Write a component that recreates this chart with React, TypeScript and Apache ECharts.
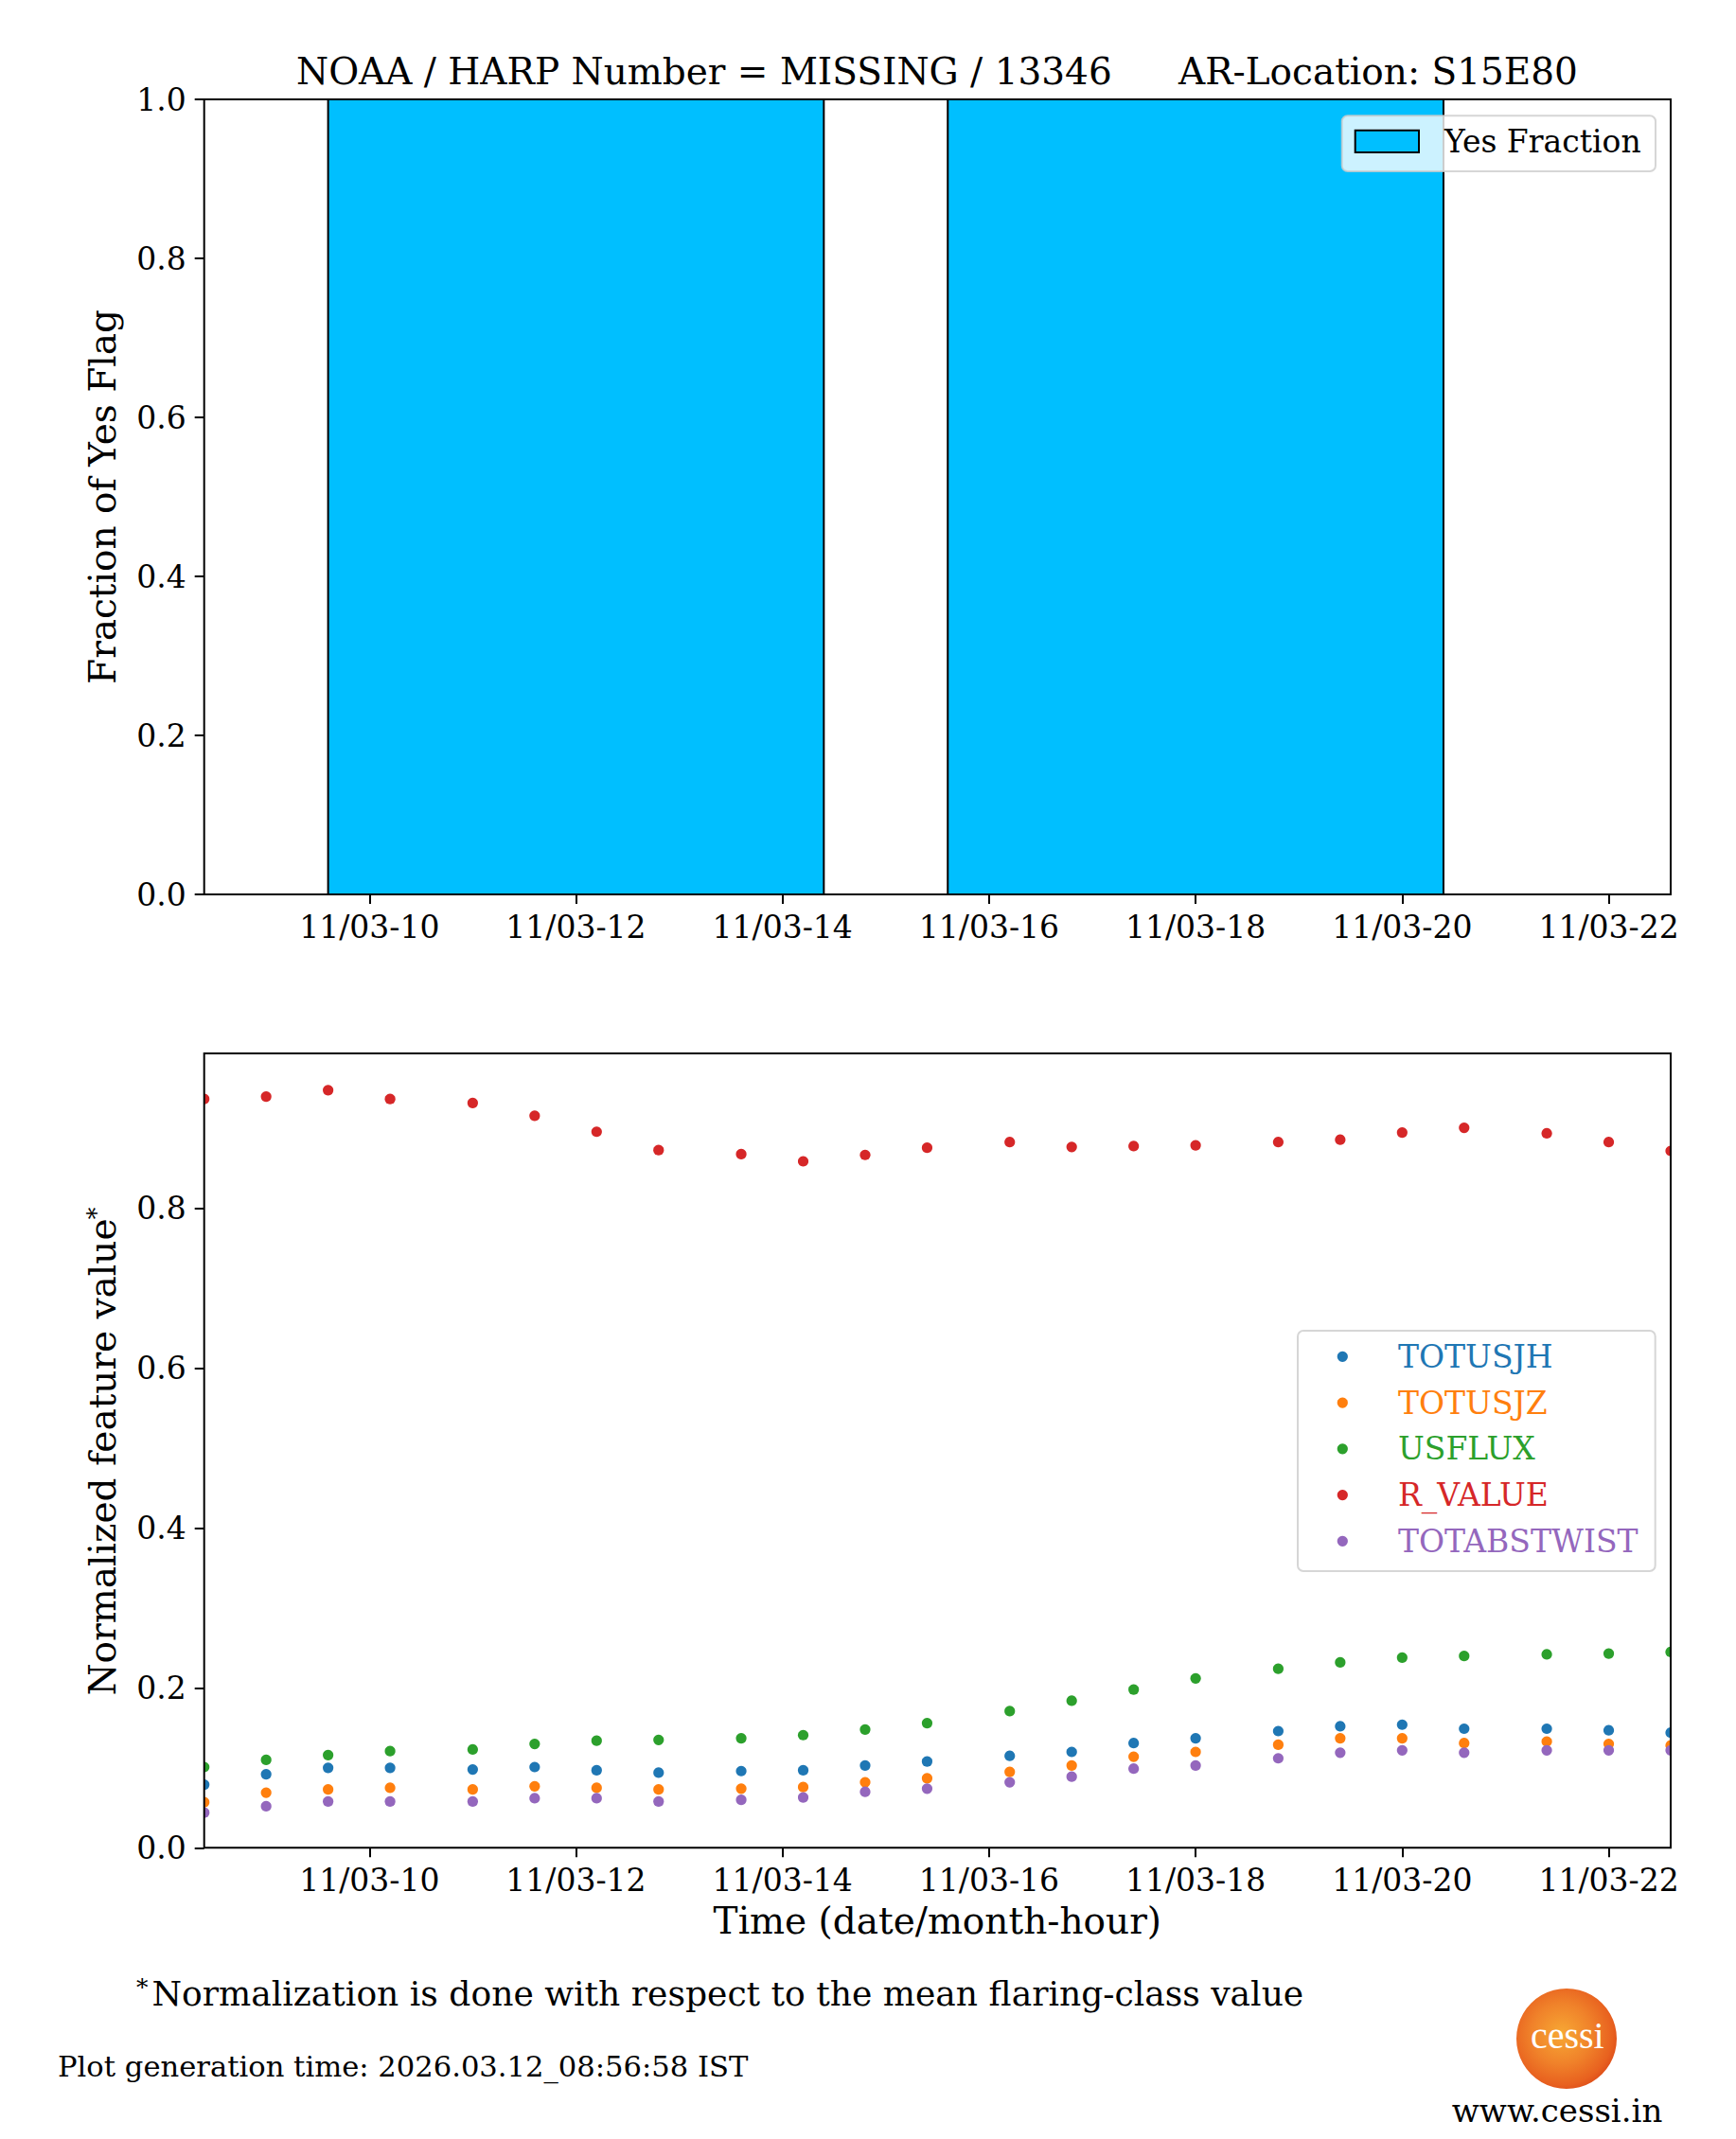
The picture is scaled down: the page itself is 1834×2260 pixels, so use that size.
import React, { useEffect, useRef } from "react";
import * as echarts from "echarts";

// ---------- data ----------
const barCenters = [12, 18]; // hour of 11/03
const barFractions = [1.0, 1.0];
const barWidthHours = 4.8;

const hours = [8.4, 9.0, 9.6, 10.2, 11.0, 11.6, 12.2, 12.8, 13.6, 14.2, 14.8, 15.4, 16.2, 16.8, 17.4, 18.0, 18.8, 19.4, 20.0, 20.6, 21.4, 22.0, 22.6];
const totusjh = [0.079, 0.092, 0.1, 0.1, 0.098, 0.101, 0.097, 0.094, 0.096, 0.097, 0.103, 0.108, 0.115, 0.12, 0.131, 0.137, 0.146, 0.152, 0.154, 0.149, 0.149, 0.147, 0.144];
const totusjz = [0.057, 0.069, 0.073, 0.075, 0.073, 0.077, 0.075, 0.073, 0.074, 0.076, 0.082, 0.087, 0.095, 0.103, 0.114, 0.12, 0.129, 0.137, 0.137, 0.131, 0.133, 0.13, 0.128];
const usflux = [0.101, 0.11, 0.116, 0.121, 0.123, 0.13, 0.134, 0.135, 0.137, 0.141, 0.148, 0.156, 0.171, 0.184, 0.198, 0.212, 0.224, 0.232, 0.238, 0.24, 0.242, 0.243, 0.245];
const rValue = [0.937, 0.94, 0.948, 0.937, 0.932, 0.916, 0.896, 0.873, 0.868, 0.859, 0.867, 0.876, 0.883, 0.877, 0.878, 0.879, 0.883, 0.886, 0.895, 0.901, 0.894, 0.883, 0.872];
const totabstwist = [0.044, 0.052, 0.058, 0.058, 0.058, 0.062, 0.062, 0.058, 0.06, 0.063, 0.07, 0.074, 0.082, 0.089, 0.099, 0.103, 0.112, 0.119, 0.122, 0.119, 0.122, 0.122, 0.122];

const seriesNames = ["TOTUSJH", "TOTUSJZ", "USFLUX", "R_VALUE", "TOTABSTWIST"];
const seriesValues = [totusjh, totusjz, usflux, rValue, totabstwist];
const seriesColors = ["#1f77b4", "#ff7f0e", "#2ca02c", "#d62728", "#9467bd"];

const xMin = 8.4;
const xMax = 22.6;
const xTickValues = [10, 12, 14, 16, 18, 20, 22];
const xTickLabels = ["11/03-10", "11/03-12", "11/03-14", "11/03-16", "11/03-18", "11/03-20", "11/03-22"];
const yTopTicks = [0, 0.2, 0.4, 0.6, 0.8, 1.0];
const yTopLabels = ["0.0", "0.2", "0.4", "0.6", "0.8", "1.0"];
const yBotTicks = [0, 0.2, 0.4, 0.6, 0.8];
const yBotLabels = ["0.0", "0.2", "0.4", "0.6", "0.8"];
const yBotMax = 0.994;

const titleLeft = "NOAA / HARP Number = MISSING / 13346";
const titleRight = "AR-Location: S15E80";
const footnote = "Normalization is done with respect to the mean flaring-class value";
const genTime = "Plot generation time: 2026.03.12_08:56:58 IST";

// ---------- layout ----------
const W = 1834;
const H = 2260;
const FONT = "DejaVu Serif";
const G1 = { left: 215.7, top: 105, width: 1549.3, height: 840 };
const G2 = { left: 215.7, top: 1113, width: 1549.3, height: 839.3 };

function lookup(vals: number[], labels: string[], v: number) {
  const i = vals.findIndex((t) => Math.abs(t - v) < 1e-6);
  return i >= 0 ? labels[i] : "";
}

function xAxisCfg(gridIndex: number) {
  return {
    type: "value",
    gridIndex,
    min: xMin,
    max: xMax,
    splitLine: { show: false },
    axisLine: { show: false },
    axisTick: {
      show: true,
      inside: false,
      length: 10,
      customValues: xTickValues,
      lineStyle: { color: "#000", width: 2 },
    },
    axisLabel: {
      show: true,
      customValues: xTickValues,
      margin: 18,
      fontFamily: FONT,
      fontSize: 33,
      color: "#000",
      formatter: (v: number) => lookup(xTickValues, xTickLabels, v),
    },
  };
}

function yAxisCfg(gridIndex: number, max: number, ticks: number[], labels: string[]) {
  return {
    type: "value",
    gridIndex,
    min: 0,
    max,
    splitLine: { show: false },
    axisLine: { show: false },
    axisTick: {
      show: true,
      inside: false,
      length: 10,
      customValues: ticks,
      lineStyle: { color: "#000", width: 2 },
    },
    axisLabel: {
      show: true,
      customValues: ticks,
      margin: 19,
      fontFamily: FONT,
      fontSize: 33,
      color: "#000",
      formatter: (v: number) => lookup(ticks, labels, v),
    },
  };
}

function txt(x: number, y: number, text: string, fontSize: number, opts: any = {}) {
  return {
    type: "text",
    x,
    y,
    z: 100,
    rotation: opts.rotation || 0,
    style: {
      text,
      fontFamily: opts.fontFamily || FONT,
      fontSize,
      fill: opts.fill || "#000",
      textAlign: opts.align || "left",
      textVerticalAlign: "middle",
    },
  };
}

export default function App() {
  const ref = useRef<HTMLDivElement>(null);
  useEffect(() => {
    if (!ref.current) return;
    const chart = echarts.init(ref.current, undefined, { renderer: "svg", width: W, height: H });

    const barData = barCenters.map((c, i) => [c, barFractions[i]]);

    const scatterSeries = seriesNames.map((name, si) => ({
      type: "custom",
      name,
      xAxisIndex: 1,
      yAxisIndex: 1,
      clip: true,
      silent: true,
      data: hours.map((h, i) => [h, seriesValues[si][i]]),
      encode: { x: 0, y: 1 },
      renderItem: (params: any, api: any) => {
        const p = api.coord([api.value(0), api.value(1)]);
        return {
          type: "circle",
          shape: { cx: p[0], cy: p[1], r: 5.6 },
          style: { fill: seriesColors[si] },
        };
      },
    }));

    const legendRows = seriesNames.map((name, i) => {
      const y = 1433.3 + i * 48.75;
      return [
        { type: "circle", z: 101, shape: { cx: 1418.3, cy: y, r: 5.6 }, style: { fill: seriesColors[i] } },
        txt(1477, y, name, 33, { fill: seriesColors[i] }),
      ];
    }).flat();

    const option: any = {
      animation: false,
      backgroundColor: "#fff",
      grid: [
        { ...G1, show: false, containLabel: false },
        { ...G2, show: false, containLabel: false },
      ],
      xAxis: [xAxisCfg(0), xAxisCfg(1)],
      yAxis: [
        yAxisCfg(0, 1, yTopTicks, yTopLabels),
        yAxisCfg(1, yBotMax, yBotTicks, yBotLabels),
      ],
      series: [
        {
          type: "custom",
          name: "Yes Fraction",
          xAxisIndex: 0,
          yAxisIndex: 0,
          clip: true,
          silent: true,
          data: barData,
          encode: { x: 0, y: 1 },
          renderItem: (params: any, api: any) => {
            const c = api.value(0);
            const v = api.value(1);
            const p0 = api.coord([c - barWidthHours / 2, v]);
            const p1 = api.coord([c + barWidthHours / 2, 0]);
            return {
              type: "rect",
              shape: { x: p0[0], y: p0[1], width: p1[0] - p0[0], height: p1[1] - p0[1] },
              style: { fill: "#00BFFF", stroke: "#000", lineWidth: 2 },
            };
          },
        },
        ...scatterSeries,
      ],
      graphic: [
        // frames (spines)
        { type: "rect", z: 99, shape: { x: G1.left, y: G1.top, width: G1.width, height: G1.height }, style: { fill: "none", stroke: "#000", lineWidth: 2 } },
        { type: "rect", z: 99, shape: { x: G2.left, y: G2.top, width: G2.width, height: G2.height }, style: { fill: "none", stroke: "#000", lineWidth: 2 } },
        // title
        txt(313, 75.8, titleLeft, 39),
        txt(1245, 75.8, titleRight, 39),
        // y axis names
        txt(108, 525, "Fraction of Yes Flag", 39, { rotation: Math.PI / 2, align: "center" }),
        txt(108, 1539.5, "Normalized feature value", 39, { rotation: Math.PI / 2, align: "center" }),
        txt(102, 1282, "*", 26, { rotation: Math.PI / 2, align: "center" }),
        // x axis name
        txt(990.3, 2029.2, "Time (date/month-hour)", 39, { align: "center" }),
        // top legend
        { type: "rect", z: 100, shape: { x: 1417.7, y: 122.3, width: 331.3, height: 58.7, r: 6 }, style: { fill: "rgba(255,255,255,0.8)", stroke: "rgba(204,204,204,0.8)", lineWidth: 2 } },
        { type: "rect", z: 101, shape: { x: 1431.7, y: 137.7, width: 67.3, height: 23.3 }, style: { fill: "#00BFFF", stroke: "#000", lineWidth: 2 } },
        txt(1526, 149.5, "Yes Fraction", 33),
        // bottom legend
        { type: "rect", z: 100, shape: { x: 1371, y: 1406, width: 377.7, height: 254, r: 6 }, style: { fill: "rgba(255,255,255,0.8)", stroke: "rgba(204,204,204,0.8)", lineWidth: 2 } },
        ...legendRows,
        // footnote
        txt(144, 2099, "*", 25),
        txt(160.5, 2106.5, footnote, 36.1),
        // generation time
        txt(61, 2183, genTime, 30.6),
        // logo
        {
          type: "circle",
          z: 100,
          shape: { cx: 1655, cy: 2154, r: 53 },
          style: {
            fill: new echarts.graphic.RadialGradient(0.45, 0.45, 0.6, [
              { offset: 0, color: "#f7a834" },
              { offset: 0.5, color: "#f0822a" },
              { offset: 0.85, color: "#e8611f" },
              { offset: 1, color: "#dc4a18" },
            ]),
          },
        },
        txt(1655.8, 2150.5, "cessi", 40, { align: "center", fill: "#ffffff", fontFamily: "Liberation Serif" }),
        txt(1645, 2230, "www.cessi.in", 34, { align: "center" }),
      ],
    };
    chart.setOption(option);
    return () => chart.dispose();
  }, []);
  return (
    <div
      ref={ref}
      style={{ position: "absolute", left: 0, top: 0, width: W, height: H, background: "#fff" }}
    />
  );
}
